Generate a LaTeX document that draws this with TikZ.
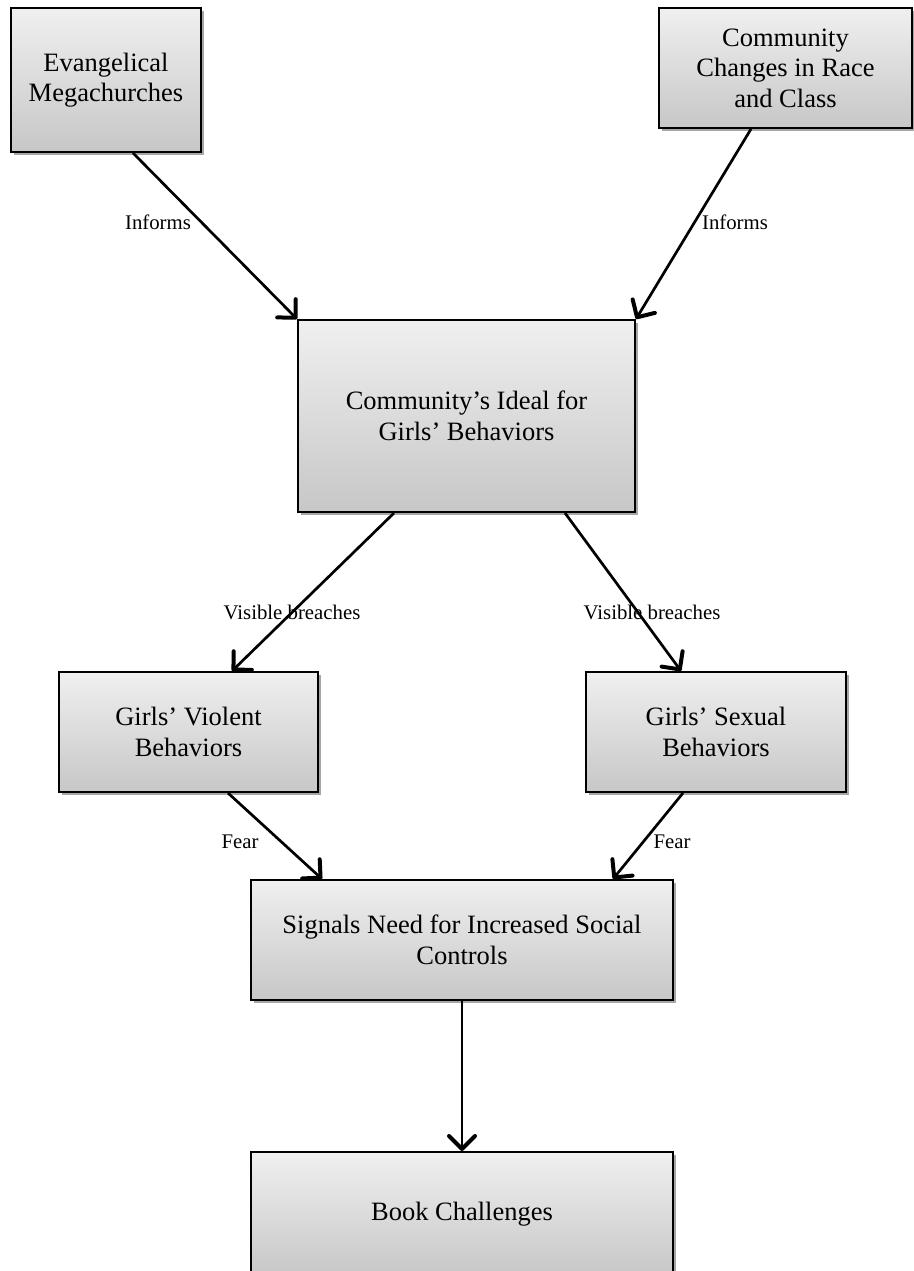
\documentclass[tikz,border=0pt]{standalone}
\usepackage{fontspec}
\setmainfont{Liberation Serif}
\usetikzlibrary{arrows.meta,shadows,calc}
\begin{document}
\begin{tikzpicture}[x=1pt,y=1pt,
  box/.style={draw=black, line width=2pt, top color=black!6, bottom color=black!22,
    align=center, inner sep=0pt, font=\fontsize{26.5}{30.5}\selectfont,
    drop shadow={shadow xshift=3pt, shadow yshift=-3pt, fill=black, opacity=0.35}},
  arr/.style={line width=2.7pt, -{Straight Barb[length=13pt,width=26pt,line width=4pt,round]}},
  lbl/.style={font=\fontsize{20.8}{24}\selectfont, inner sep=0pt}]
\useasboundingbox (0,0) rectangle (913,-1271);
\node[box, minimum width=190pt, minimum height=144pt] (evang) at (106,-80) {Evangelical\\Megachurches};
\node[box, minimum width=253pt, minimum height=120pt] (change) at (785.5,-68) {Community\\Changes in Race\\and Class};
\node[box, minimum width=337pt, minimum height=192pt] (ideal) at (466.5,-416) {Community’s Ideal for\\Girls’ Behaviors};
\node[box, minimum width=259pt, minimum height=120pt] (violent) at (188.5,-732) {Girls’ Violent\\Behaviors};
\node[box, minimum width=260pt, minimum height=120pt] (sexual) at (716,-732) {Girls’ Sexual\\Behaviors};
\node[box, minimum width=422pt, minimum height=120pt] (signals) at (462,-940) {Signals Need for Increased Social\\Controls};
\node[box, minimum width=422pt, minimum height=124pt] (book) at (462,-1214) {Book Challenges};

\draw[arr] ([xshift=27pt]evang.south) -- (ideal.north west);
\draw[arr] ([xshift=-34.5pt]change.south) -- (ideal.north east);
\draw[arr] ([xshift=-72.5pt]ideal.south) -- ([xshift=43.5pt]violent.north);
\draw[arr] ([xshift=98.5pt]ideal.south) -- ([xshift=-35pt]sexual.north);
\draw[arr] ([xshift=39.5pt]violent.south) -- ([xshift=-140pt]signals.north);
\draw[arr] ([xshift=-33pt]sexual.south) -- ([xshift=151pt]signals.north);
\draw[arr] (signals.south) -- (book.north);

\node[lbl] (l1) at (158,-222) {Informs};
\node[lbl] (l2) at (735,-222) {Informs};
\node[lbl] (l3) at (292,-612) {Visible breaches};
\node[lbl] (l4) at (652,-612) {Visible breaches};
\node[lbl] (l5) at (240,-842) {Fear};
\node[lbl] (l6) at (672,-842) {Fear};
\end{tikzpicture}
\end{document}
